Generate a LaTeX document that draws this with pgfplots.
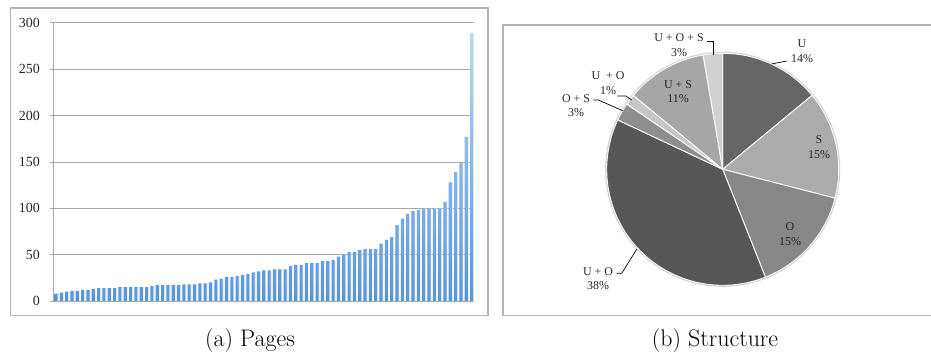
\documentclass[border=0pt]{standalone}
\usepackage{fontspec}
\newfontfamily\tnr{Liberation Serif}
\usepackage{pgfplots}
\usepackage{pgfplotstable}
\pgfplotsset{compat=1.18}
\definecolor{barTop}{HTML}{B8D7FC}
\definecolor{barBot}{HTML}{5596DC}
\definecolor{frame}{HTML}{B4B4B4}
\definecolor{gridc}{HTML}{A8A8A8}
\definecolor{cU}{HTML}{666666}
\definecolor{cS}{HTML}{ABABAB}
\definecolor{cO}{HTML}{878787}
\definecolor{cUO}{HTML}{575757}
\definecolor{cOS}{HTML}{8E8E8E}
\definecolor{cUOb}{HTML}{C6C6C6}
\definecolor{cUS}{HTML}{A6A6A6}
\definecolor{cUOS}{HTML}{D0D0D0}
\definecolor{txt}{HTML}{262626}

\pgfplotstableread{
x y
1 8
2 9
3 10
4 11
5 11
6 12
7 12
8 13
9 14
10 14
11 14
12 14
13 15
14 15
15 15
16 15
17 15
18 15
19 16
20 17
21 17
22 17
23 17
24 17
25 18
26 18
27 18
28 19
29 19
30 20
31 23
32 24
33 26
34 26
35 27
36 28
37 29
38 31
39 32
40 33
41 33
42 34
43 34
44 34
45 38
46 39
47 39
48 41
49 41
50 41
51 43
52 43
53 44
54 48
55 50
56 53
57 53
58 55
59 56
60 56
61 56
62 62
63 66
64 69
65 82
66 89
67 94
68 97
69 98
70 100
71 100
72 100
73 100
74 107
75 128
76 139
77 149
78 177
79 289
}\pages

% pie shares (percent), clockwise from 12 o'clock
\def\vU{14}
\def\vS{15}
\def\vO{15}
\def\vUO{38}
\def\vOS{2.5}
\def\vUOb{1.5}
\def\vUS{11.3}
\def\vUOS{2.7}

\newcommand\slice[3]{% color, start angle, share
  \fill[#1, draw=white, line width=0.9bp] (axis cs:0,0) -- ++({#2}:116bp)
    arc[start angle={#2}, delta angle={-3.6*(#3)}, radius=116bp] -- cycle;}

\begin{document}
\begin{tikzpicture}[x=1bp,y=1bp]
\useasboundingbox (0,0) rectangle (931,353);

% frames
\draw[frame, line width=1.2bp] (10.5,345) rectangle (488,37.5);
\draw[frame, line width=1.2bp] (935,328) -- (503,328) -- (503,37.5) -- (935,37.5);

% ---------- (a) bar chart ----------
\begin{axis}[
  at={(53bp,52bp)}, anchor=south west,
  scale only axis, width=421bp, height=278bp,
  xmin=0.44, xmax=79.45, ymin=0, ymax=300,
  ytick={0,50,...,300}, xtick=\empty,
  axis lines*=left,
  axis line style={gridc, line width=1bp},
  ymajorgrids, grid style={gridc, line width=1bp},
  tick align=outside, major tick length=3bp,
  ytick style={gridc, line width=1bp},
  /pgf/number format/assume math mode=true,
  yticklabel style={font=\tnr\fontsize{14}{16}\selectfont, text=txt, anchor=east, inner sep=0pt, xshift=-10bp},
  clip=false,
]
\addplot[ybar, bar width=3.1bp, bar shift=1.1bp, fill=black!7, draw=none] table[x=x,y=y] {\pages};
\addplot[ybar, bar width=3.1bp, draw=none, top color=barTop, bottom color=barBot] table[x=x,y=y] {\pages};
\end{axis}

% ---------- (b) pie chart ----------
\begin{axis}[
  at={(722.7bp,183.7bp)}, anchor=center,
  scale only axis, width=232bp, height=232bp,
  xmin=-1, xmax=1, ymin=-1, ymax=1,
  hide axis, clip=false,
]
\draw[black!18, line width=2bp] (axis cs:0,0) circle[radius=116.5bp];
\slice{cU}{90}{\vU}
\slice{cS}{90-3.6*(\vU)}{\vS}
\slice{cO}{90-3.6*(\vU+\vS)}{\vO}
\slice{cUO}{90-3.6*(\vU+\vS+\vO)}{\vUO}
\slice{cOS}{90-3.6*(\vU+\vS+\vO+\vUO)}{\vOS}
\slice{cUOb}{90-3.6*(\vU+\vS+\vO+\vUO+\vOS)}{\vUOb}
\slice{cUS}{90-3.6*(\vU+\vS+\vO+\vUO+\vOS+\vUOb)}{\vUS}
\slice{cUOS}{90-3.6*(\vU+\vS+\vO+\vUO+\vOS+\vUOb+\vUS)}{\vUOS}
\end{axis}

% pie labels
\tikzset{pl/.style={font=\tnr\fontsize{12}{14.5}\selectfont, text=txt, align=center, inner sep=0pt}}
\node[pl] at (802,302) {U\\14\%};
\node[pl] at (819,206) {S\\15\%};
\node[pl] at (790,119) {O\\15\%};
\node[pl] at (678,261.5) {U + S\\11\%};
\node[pl] at (679,308) {U + O + S\\3\%};
\node[pl] at (608,270) {U~~+ O\\1\%};
\node[pl] at (576,247.5) {O + S\\3\%};
\node[pl] at (598,74.3) {U + O\\38\%};

% leader lines
\draw[black, line width=0.7bp] (771.7,289) -- (786.7,292);
\draw[black, line width=0.7bp] (706.7,311.3) -- (713.3,311.3) -- (713.3,298);
\draw[black, line width=0.7bp] (617,257) -- (626,257) -- (631.7,253);
\draw[black, line width=0.7bp] (593.3,253) -- (598.3,253) -- (622.7,242.3);
\draw[black, line width=0.7bp] (616.7,79.7) -- (621.7,79.7) -- (636.7,103.7);

% captions
\node[font=\fontsize{24}{27}\selectfont, inner sep=0pt] at (250,12) {(a) Pages};
\node[font=\fontsize{24}{27}\selectfont, inner sep=0pt] at (715,12) {(b) Structure};
\end{tikzpicture}
\end{document}
